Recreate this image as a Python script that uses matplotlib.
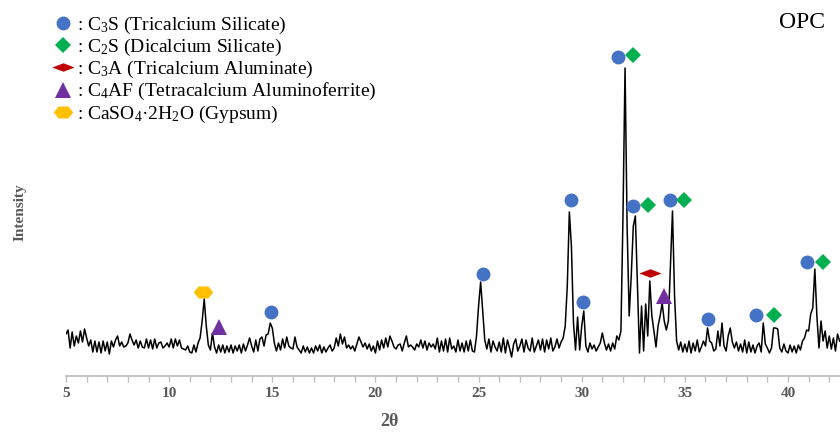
import matplotlib
matplotlib.use("Agg")
import matplotlib.pyplot as plt
from matplotlib.lines import Line2D
import numpy as np

plt.rcParams['font.family'] = ['Liberation Serif', 'DejaVu Serif']
plt.rcParams['mathtext.fontset'] = 'custom'
plt.rcParams['mathtext.rm'] = 'Liberation Serif'
plt.rcParams['mathtext.it'] = 'Liberation Serif:italic'
plt.rcParams['mathtext.bf'] = 'Liberation Serif:bold'

# XRD scan, step 0.1 deg from 5.0 deg (intensity in a.u.)
two_theta_start = 5.0
two_theta_step = 0.1
intensity = [
    42, 46, 28, 44, 30, 40, 33, 45, 34, 47,   # 5
    38, 30, 36, 24, 35, 24, 34, 23, 35, 25,   # 6
    34, 22, 35, 29, 36, 40, 30, 34, 29, 30,   # 7
    33, 42, 36, 31, 36, 28, 35, 29, 28, 37,   # 8
    28, 36, 27, 37, 28, 33, 34, 28, 30, 33,   # 9
    29, 37, 28, 37, 30, 36, 28, 27, 26, 30,   # 10
    24, 23, 31, 24, 33, 38, 55, 77, 50, 31,   # 11
    26, 43, 29, 23, 31, 24, 31, 23, 30, 24,   # 12
    31, 23, 30, 25, 31, 23, 32, 25, 31, 38,   # 13
    30, 24, 36, 25, 37, 39, 30, 41, 42, 53,   # 14
    48, 33, 25, 33, 26, 37, 28, 39, 30, 28,   # 15
    27, 39, 29, 26, 23, 30, 24, 29, 23, 28,   # 16
    23, 30, 25, 31, 23, 29, 24, 28, 31, 25,   # 17
    28, 38, 30, 42, 32, 39, 28, 31, 27, 30,   # 18
    25, 32, 39, 34, 29, 33, 27, 32, 25, 30,   # 19
    23, 35, 26, 36, 28, 38, 29, 40, 35, 29,   # 20
    27, 31, 32, 25, 33, 40, 29, 31, 29, 26,   # 21
    32, 29, 36, 28, 35, 26, 33, 29, 32, 27,   # 22
    38, 24, 35, 25, 37, 24, 38, 27, 30, 24,   # 23
    36, 25, 33, 24, 35, 25, 36, 25, 24, 40,   # 24
    70, 94, 65, 36, 27, 37, 24, 35, 29, 25,   # 25
    34, 24, 38, 23, 36, 28, 19, 32, 37, 25,   # 26
    30, 37, 24, 36, 28, 25, 38, 24, 30, 36,   # 27
    26, 37, 24, 36, 27, 38, 25, 29, 37, 28,   # 28
    34, 38, 50, 90, 164, 130, 53, 26, 59, 26,  # 29
    50, 65, 30, 24, 33, 27, 31, 25, 29, 33,   # 30
    43, 33, 26, 32, 25, 33, 27, 40, 36, 45,   # 31
    160, 308, 150, 60, 100, 150, 160, 90, 23, 70,  # 32
    25, 72, 40, 95, 60, 45, 29, 50, 60, 73,   # 33
    55, 46, 55, 110, 165, 80, 35, 26, 34, 24,  # 34
    32, 24, 35, 23, 33, 25, 36, 24, 29, 35,   # 35
    30, 48, 35, 33, 25, 27, 45, 30, 53, 30,   # 36
    25, 40, 48, 34, 28, 34, 25, 32, 24, 36,   # 37
    23, 34, 24, 31, 23, 30, 33, 24, 53, 32,   # 38
    28, 23, 28, 48, 48, 47, 28, 24, 32, 25,   # 39
    23, 31, 24, 30, 23, 31, 26, 35, 38, 46,   # 40
    45, 62, 68, 107, 60, 28, 55, 35, 45, 28,  # 41
    40, 27, 38, 25, 42, 35,                   # 42
]
two_theta = two_theta_start + two_theta_step * np.arange(len(intensity))

# phase markers (2theta, height)
c3s_x = [14.92, 25.23, 29.46, 30.08, 31.77, 32.47, 34.28, 36.10, 38.45, 40.90]
c3s_y = [64, 102, 176, 74, 319, 170, 176, 57, 61, 114]
c2s_x = [32.50, 33.19, 34.96, 39.32, 41.68]
c2s_y = [321, 171, 176, 61, 114]
c3a_x = [33.30]
c3a_y = [103]
c4af_x = [12.42, 34.00]
c4af_y = [49, 80]
gyp_x = [11.64]
gyp_y = [84]

flat_diamond = [(-1, 0), (0, 0.38), (1, 0), (0, -0.38), (-1, 0)]
flat_hexagon = [(-1, 0), (-0.5, 0.62), (0.5, 0.62), (1, 0), (0.5, -0.62), (-0.5, -0.62), (-1, 0)]

phases = [
    (c3s_x, c3s_y, dict(marker='o', color='#4472C4', markersize=10), ": C$_3$S (Tricalcium Silicate)"),
    (c2s_x, c2s_y, dict(marker='D', color='#00B050', markersize=8.5), ": C$_2$S (Dicalcium Silicate)"),
    (c3a_x, c3a_y, dict(marker=flat_diamond, color='#C00000', markersize=16), ": C$_3$A (Tricalcium Aluminate)"),
    (c4af_x, c4af_y, dict(marker='^', color='#7030A0', markersize=11), ": C$_4$AF (Tetracalcium Aluminoferrite)"),
    (gyp_x, gyp_y, dict(marker=flat_hexagon, color='#FFC000', markersize=14), ": CaSO$_4$·2H$_2$O (Gypsum)"),
]

fig = plt.figure(figsize=(8.4, 4.32), dpi=100)
ax = fig.add_axes([66 / 840, 56 / 432, 774 / 840, 376 / 432])

ax.plot(two_theta, intensity, color='black', lw=1.1)

handles, labels = [], []
for xs, ys, style, label in phases:
    ax.plot(xs, ys, linestyle='none', markeredgewidth=0, zorder=3, **style)
    handles.append(Line2D([], [], linestyle='none', markeredgewidth=0, **style))
    labels.append(label)

fig.legend(handles, labels, loc='upper left', bbox_to_anchor=(53 / 840, 1 - 15 / 432),
           frameon=False, fontsize=14, handlelength=1.0, handletextpad=0.25,
           labelspacing=0.05, borderpad=0, borderaxespad=0)

ax.set_xlim(5, 42.52)
ax.set_ylim(0, 376)
for side in ['left', 'top', 'right']:
    ax.spines[side].set_visible(False)
ax.spines['bottom'].set_color('#BFBFBF')
ax.spines['bottom'].set_linewidth(1.3)
ax.set_yticks([])
ax.set_xticks([5, 10, 15, 20, 25, 30, 35, 40])
ax.set_xticks(np.arange(6, 43, 1), minor=True)
ax.tick_params(axis='x', which='both', length=4, color='#BFBFBF', width=1,
               labelsize=11, labelcolor='#595959', pad=4)
for t in ax.get_xticklabels():
    t.set_fontweight('bold')

fig.text(389 / 840, 1 - 422 / 432, "2θ", ha='center', va='center', fontsize=13,
         fontweight='bold', color='#595959')
fig.text(20 / 840, 1 - 212 / 432, "Intensity", ha='center', va='center', rotation=90,
         fontsize=11, fontweight='bold', color='#595959')
fig.text(802 / 840, 1 - 22 / 432, "OPC", ha='center', va='center', fontsize=17, color='black')

fig.savefig("out.png", dpi=100)
